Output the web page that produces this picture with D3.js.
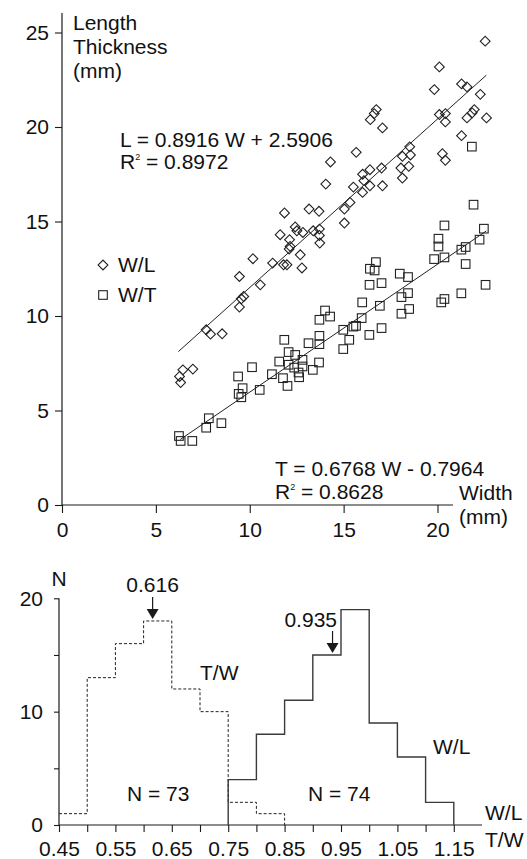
<!DOCTYPE html>
<html><head><meta charset="utf-8">
<script src="https://cdn.jsdelivr.net/npm/d3@7/dist/d3.min.js"></script>
<style>
html,body{margin:0;padding:0;background:#fff;}
text{font-family:"Liberation Sans",Arial,Helvetica,sans-serif;fill:#111;}
</style></head>
<body>
<svg id="c" width="527" height="859"></svg>
<script>
// ---------- DATA ----------
const scatterXTicks = [0, 5, 10, 15, 20];
const scatterYTicks = [0, 5, 10, 15, 20, 25];
// W/L (diamonds): width, length
const wlWidth  = [22.54,20.10,19.83,21.28,21.57,22.28,16.74,16.63,16.42,17.07,20.10,20.42,20.42,21.96,21.85,21.57,22.61,21.28,15.67,14.30,14.05,20.26,20.42,18.52,18.13,18.56,18.05,18.47,18.13,16.01,16.40,17.02,15.52,16.01,16.40,17.07,16.08,11.85,13.16,13.69,12.42,12.51,12.83,11.62,12.12,13.38,13.71,13.71,13.73,12.15,12.10,15.04,15.34,15.04,10.17,11.22,11.80,11.98,12.69,12.78,9.45,10.56,9.68,9.55,9.45,7.68,7.91,8.53,6.44,6.26,6.32,6.97];
const wlLength = [24.54,23.18,21.98,22.28,22.12,21.73,20.92,20.71,20.39,19.95,20.66,20.71,20.27,20.92,20.75,20.48,20.48,19.54,18.66,18.15,16.98,18.59,18.24,18.95,18.45,18.52,17.83,17.92,17.30,17.50,17.74,17.83,16.82,16.54,16.89,16.89,17.16,15.45,15.66,15.54,14.71,14.51,14.42,14.30,14.04,14.51,14.60,14.26,13.86,13.68,13.54,15.66,16.01,14.92,13.03,12.80,12.71,12.71,13.24,12.54,12.09,11.65,11.03,10.91,10.47,9.27,9.04,9.06,7.15,6.80,6.48,7.19];
// W/T (squares): width, thickness
const wtWidth  = [21.92,20.37,22.47,22.24,20.05,20.05,19.82,20.37,21.27,21.50,21.50,22.56,21.27,20.37,20.20,16.72,16.40,16.65,16.38,17.02,17.99,18.43,15.99,16.93,18.08,18.43,18.08,18.49,15.96,15.52,15.66,14.98,15.30,14.98,16.37,17.02,14.28,14.01,13.71,11.84,13.13,13.71,13.71,12.07,12.42,11.57,12.07,12.37,12.81,12.81,13.69,13.36,12.60,12.63,10.12,9.38,11.18,11.77,12.01,9.62,9.41,9.55,10.53,7.82,7.68,8.49,6.23,6.32,6.94,21.83];
const wtThick  = [15.89,14.79,14.62,14.04,14.09,13.68,13.01,13.10,13.51,13.65,12.75,11.65,11.20,10.90,10.72,12.85,12.50,12.41,11.65,11.74,12.24,12.06,10.72,10.54,11.00,11.21,10.12,10.37,9.89,9.44,9.48,9.27,8.74,8.25,9.00,9.36,9.97,10.29,9.80,8.74,8.56,8.95,8.51,8.09,7.94,7.59,7.42,7.27,7.68,7.33,7.54,7.15,7.01,6.76,7.29,6.80,6.92,6.71,6.30,6.18,5.88,5.70,6.09,4.59,4.09,4.33,3.65,3.39,3.39,18.96];
// regressions
const regNames = ["L", "T"];
const regSlopes = [0.8916, 0.6768];
const regIntercepts = [2.5906, -0.7964];
const regFrom = [6.2, 6.3];
const regTo = [22.6, 22.6];
// histogram
const histXTicks = [0.45,0.50,0.55,0.60,0.65,0.70,0.75,0.80,0.85,0.90,0.95,1.00,1.05,1.10,1.15];
const histXLabels = ["0.45","0.55","0.65","0.75","0.85","0.95","1.05","1.15"];
const histYTicks = [0,5,10,15,20];
const histYLabels = [0,10,20];
const twBinStart = [0.45,0.50,0.55,0.60,0.65,0.70,0.75,0.80];
const twCounts   = [1,13,16,18,12,10,2,1];
const wlBinStart = [0.75,0.80,0.85,0.90,0.95,1.00,1.05,1.10];
const wlCounts   = [4,8,11,15,19,9,6,2];
const binWidth = 0.05;
const modeValues = [0.616, 0.935];
const modeCounts = [18, 15];

// ---------- DRAW ----------
const svg = d3.select("#c");
const FS = 21;
const ink = "#1a1a1a";

// Scatter scales
const x = d3.scaleLinear().domain([0, 20]).range([62, 437.5]);
const y = d3.scaleLinear().domain([0, 25]).range([505, 32.5]);

// axes
svg.append("line").attr("x1", 62).attr("x2", 453).attr("y1", y(0)).attr("y2", y(0)).attr("stroke", ink).attr("stroke-width", 1.2);
svg.append("line").attr("x1", 62).attr("x2", 62).attr("y1", y(0)).attr("y2", 13).attr("stroke", ink).attr("stroke-width", 1.2);
const gx = svg.append("g").attr("transform", `translate(0,${y(0)})`)
  .call(d3.axisBottom(x).tickValues(scatterXTicks).tickSize(8).tickSizeOuter(0).tickPadding(9));
const gy = svg.append("g").attr("transform", `translate(62,0)`)
  .call(d3.axisLeft(y).tickValues(scatterYTicks).tickSize(7).tickSizeOuter(0).tickPadding(6));
[gx, gy].forEach(g => {
  g.select(".domain").remove();
  g.selectAll("line").attr("stroke", ink).attr("stroke-width", 1.1);
  g.selectAll("text").attr("font-size", FS).attr("font-family", '"Liberation Sans",Arial,sans-serif').attr("fill", "#111");
});

// regression lines
regNames.forEach((n, i) => {
  svg.append("line")
    .attr("x1", x(regFrom[i])).attr("y1", y(regSlopes[i] * regFrom[i] + regIntercepts[i]))
    .attr("x2", x(regTo[i])).attr("y2", y(regSlopes[i] * regTo[i] + regIntercepts[i]))
    .attr("stroke", "#222").attr("stroke-width", 1);
});

// markers
const dia = d3.symbol().type(d3.symbolSquare).size(48);
svg.append("g").selectAll("path").data(wlWidth.map((w, i) => [w, wlLength[i]])).join("path")
  .attr("d", dia)
  .attr("transform", d => `translate(${x(d[0])},${y(d[1])}) rotate(45)`)
  .attr("fill", "none").attr("stroke", "#222").attr("stroke-width", 1.1);
svg.append("g").selectAll("rect").data(wtWidth.map((w, i) => [w, wtThick[i]])).join("rect")
  .attr("x", d => x(d[0]) - 4.3).attr("y", d => y(d[1]) - 4.3)
  .attr("width", 8.6).attr("height", 8.6)
  .attr("fill", "none").attr("stroke", "#222").attr("stroke-width", 1.1);

// axis titles
const t1 = svg.append("text").attr("x", 73).attr("y", 30).attr("font-size", FS);
t1.append("tspan").attr("x", 73).attr("dy", 0).text("Length");
t1.append("tspan").attr("x", 73).attr("dy", 24).text("Thickness");
t1.append("tspan").attr("x", 73).attr("dy", 24).text("(mm)");
svg.append("text").attr("x", 459).attr("y", 500).attr("font-size", FS).text("Width");
svg.append("text").attr("x", 459).attr("y", 524).attr("font-size", FS).text("(mm)");

// equations
svg.append("text").attr("x", 120).attr("y", 147).attr("font-size", FS).text("L = 0.8916 W + 2.5906");
const r1 = svg.append("text").attr("x", 120).attr("y", 169).attr("font-size", FS);
r1.append("tspan").text("R");
r1.append("tspan").attr("font-size", 9).attr("dy", -9).text("2");
r1.append("tspan").attr("dy", 9).text(" = 0.8972");
svg.append("text").attr("x", 275).attr("y", 476).attr("font-size", FS).text("T = 0.6768 W - 0.7964");
const r2 = svg.append("text").attr("x", 275).attr("y", 499).attr("font-size", FS);
r2.append("tspan").text("R");
r2.append("tspan").attr("font-size", 9).attr("dy", -9).text("2");
r2.append("tspan").attr("dy", 9).text(" = 0.8628");

// legend
svg.append("path").attr("d", dia).attr("transform", "translate(103,265) rotate(45)")
  .attr("fill", "none").attr("stroke", "#222").attr("stroke-width", 1.1);
svg.append("text").attr("x", 118).attr("y", 272).attr("font-size", FS).text("W/L");
svg.append("rect").attr("x", 103 - 4.3).attr("y", 295 - 4.3).attr("width", 8.6).attr("height", 8.6)
  .attr("fill", "none").attr("stroke", "#222").attr("stroke-width", 1.1);
svg.append("text").attr("x", 118).attr("y", 302).attr("font-size", FS).text("W/T");

// ---------- HISTOGRAM ----------
const hx = d3.scaleLinear().domain([0.45, 1.20]).range([59, 482]);
const hy = d3.scaleLinear().domain([0, 20]).range([825, 598.3]);

svg.append("line").attr("x1", hx(0.45)).attr("x2", hx(1.20)).attr("y1", hy(0)).attr("y2", hy(0)).attr("stroke", ink).attr("stroke-width", 1.2);
svg.append("line").attr("x1", hx(0.45)).attr("x2", hx(0.45)).attr("y1", hy(0)).attr("y2", hy(20)).attr("stroke", ink).attr("stroke-width", 1.2);
const hgx = svg.append("g").attr("transform", `translate(0,${hy(0)})`)
  .call(d3.axisBottom(hx).tickValues(histXTicks).tickSize(7).tickSizeOuter(0).tickPadding(9)
    .tickFormat(d => histXLabels.includes(d.toFixed(2)) ? d.toFixed(2) : ""));
const hgy = svg.append("g").attr("transform", `translate(${hx(0.45)},0)`)
  .call(d3.axisLeft(hy).tickValues(histYTicks).tickSize(5).tickSizeOuter(0).tickPadding(11)
    .tickFormat(d => histYLabels.includes(d) ? d : ""));
[hgx, hgy].forEach(g => {
  g.select(".domain").remove();
  g.selectAll("line").attr("stroke", ink).attr("stroke-width", 1.1);
  g.selectAll("text").attr("font-size", FS).attr("font-family", '"Liberation Sans",Arial,sans-serif').attr("fill", "#111");
});

// step paths
function stepPts(starts, counts, closeLeft) {
  const pts = [];
  if (closeLeft) pts.push([starts[0], 0]);
  starts.forEach((s, i) => { pts.push([s, counts[i]]); pts.push([s + binWidth, counts[i]]); });
  pts.push([starts[starts.length - 1] + binWidth, 0]);
  return pts;
}
const line = d3.line().x(d => hx(d[0])).y(d => hy(d[1]));
svg.append("path").attr("d", line(stepPts(twBinStart, twCounts, false)))
  .attr("fill", "none").attr("stroke", "#222").attr("stroke-width", 1).attr("stroke-dasharray", "3,2");
svg.append("path").attr("d", line(stepPts(wlBinStart, wlCounts, true)))
  .attr("fill", "none").attr("stroke", "#3a3a3a").attr("stroke-width", 1.4);

// mode arrows
modeValues.forEach((m, i) => {
  const tipY = hy(modeCounts[i]) - 2;
  const ax = hx(m);
  svg.append("line").attr("x1", ax).attr("x2", ax).attr("y1", tipY - 22).attr("y2", tipY - 8).attr("stroke", ink).attr("stroke-width", 1.2);
  svg.append("path").attr("d", `M${ax - 6},${tipY - 10}L${ax + 6},${tipY - 10}L${ax},${tipY}Z`).attr("fill", ink);
});
svg.append("text").attr("x", hx(modeValues[0])).attr("y", 592).attr("text-anchor", "middle").attr("font-size", FS).text("0.616");
svg.append("text").attr("x", 337).attr("y", 627).attr("text-anchor", "end").attr("font-size", FS).text("0.935");

// labels
svg.append("text").attr("x", 59).attr("y", 586).attr("text-anchor", "middle").attr("font-size", FS).text("N");
svg.append("text").attr("x", 200).attr("y", 680).attr("font-size", FS).text("T/W");
svg.append("text").attr("x", 433).attr("y", 754).attr("font-size", FS).text("W/L");
svg.append("text").attr("x", 127).attr("y", 801).attr("font-size", FS).text("N = 73");
svg.append("text").attr("x", 308).attr("y", 801).attr("font-size", FS).text("N = 74");
svg.append("text").attr("x", 485).attr("y", 820).attr("font-size", FS).text("W/L");
svg.append("text").attr("x", 485).attr("y", 847).attr("font-size", FS).text("T/W");
</script>
</body></html>
